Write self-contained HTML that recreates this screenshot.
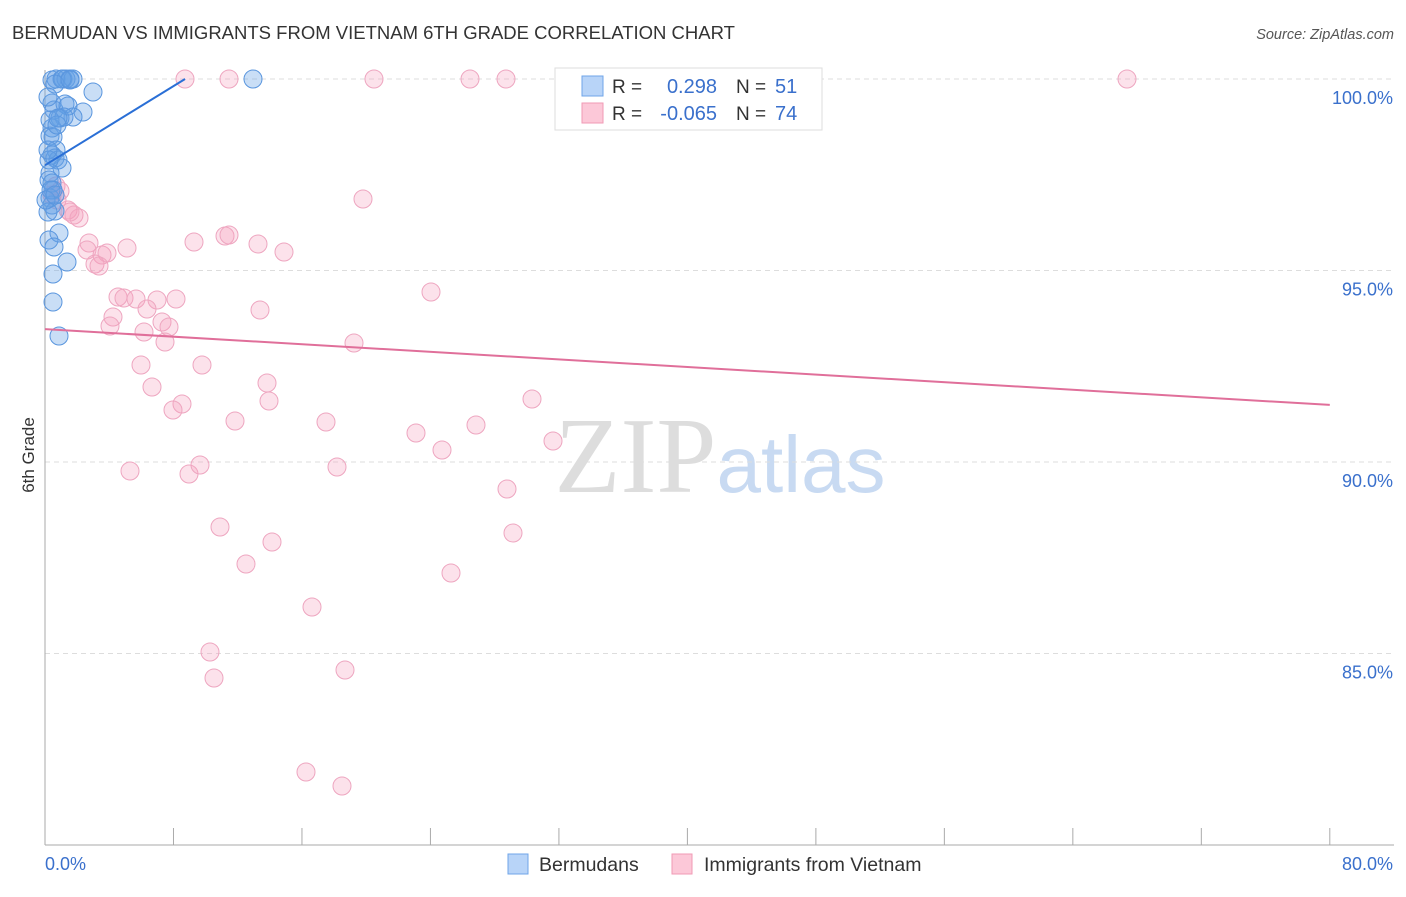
<!DOCTYPE html>
<html><head><meta charset="utf-8"><style>
body{margin:0;background:#fff;font-family:"Liberation Sans",sans-serif;}
svg text{font-family:"Liberation Sans",sans-serif;}
</style></head><body>
<svg id="chart" width="1406" height="892" viewBox="0 0 1406 892" xmlns="http://www.w3.org/2000/svg">
<text x="12" y="39" font-size="18.5" fill="#333">BERMUDAN VS IMMIGRANTS FROM VIETNAM 6TH GRADE CORRELATION CHART</text>
<text x="1394" y="39" font-size="14.5" fill="#555" text-anchor="end" font-style="italic">Source: ZipAtlas.com</text>
<text x="720" y="492" font-size="108" text-anchor="middle"><tspan fill="#ddd" font-family="Liberation Serif">ZIP</tspan><tspan fill="#c8daf2" font-size="80">atlas</tspan></text>
<g id="grid"></g><g id="axes"></g><g id="pts"></g><g id="lines"></g>
<text transform="translate(34,455) rotate(-90)" font-size="17" fill="#333" text-anchor="middle">6th Grade</text>
<g>
<rect x="555" y="68" width="267" height="62" fill="#fff" stroke="#ddd"/>
<rect x="582" y="76" width="21" height="20" fill="#b8d4f8" stroke="#6fa5e8"/>
<rect x="582" y="103" width="21" height="20" fill="#fcc8d8" stroke="#f09ab5"/>
<text x="612" y="93" font-size="19" fill="#333">R =</text><text x="717" y="93" font-size="20" fill="#3a70cc" text-anchor="end">0.298</text>
<text x="736" y="93" font-size="19" fill="#333">N =</text><text x="775" y="93" font-size="20" fill="#3a70cc">51</text>
<text x="612" y="120" font-size="19" fill="#333">R =</text><text x="717" y="120" font-size="20" fill="#3a70cc" text-anchor="end">-0.065</text>
<text x="736" y="120" font-size="19" fill="#333">N =</text><text x="775" y="120" font-size="20" fill="#3a70cc">74</text>
</g>
<g>
<rect x="508" y="854" width="20" height="20" fill="#b8d4f8" stroke="#6fa5e8"/>
<text x="539" y="871" font-size="19.5" fill="#333">Bermudans</text>
<rect x="672" y="854" width="20" height="20" fill="#fcc8d8" stroke="#f09ab5"/>
<text x="704" y="871" font-size="19.5" fill="#333">Immigrants from Vietnam</text>
</g>
</svg>
<script>
const yTicks=[100,95,90,85];
const yTickLabels=["100.0%","95.0%","90.0%","85.0%"];
const xTicks=[0,8,16,24,32,40,48,56,64,72,80];
const bluePx=[[52,80],[56,79],[63,79],[66,79],[70,79],[73,79],[62,79],[253,79],[93,92],[55,84],[52,103],[54,110],[65,104],[68,106],[83,112],[73,117],[60,118],[64,117],[52,128],[50,136],[53,137],[56,150],[52,155],[55,158],[58,160],[62,168],[50,173],[49,180],[52,183],[53,190],[50,198],[52,205],[55,211],[48,212],[59,233],[49,240],[54,247],[67,262],[53,274],[53,302],[59,336],[48,97],[50,120],[57,125],[70,80],[51,190],[46,200],[49,160],[55,195],[48,150],[58,118]];
const pinkPx=[[185,79],[229,79],[374,79],[470,79],[506,79],[738,79],[1127,79],[56,186],[60,191],[52,195],[57,200],[68,210],[74,215],[79,218],[70,212],[363,199],[89,243],[87,250],[102,255],[107,253],[127,248],[95,264],[99,266],[194,242],[225,236],[229,235],[258,244],[284,252],[118,297],[124,298],[136,299],[157,300],[176,299],[147,309],[260,310],[431,292],[113,317],[110,326],[144,332],[162,322],[169,327],[165,342],[354,343],[141,365],[202,365],[152,387],[267,383],[182,404],[269,401],[173,410],[235,421],[326,422],[532,399],[476,425],[416,433],[442,450],[553,441],[130,471],[189,474],[200,465],[337,467],[507,489],[220,527],[272,542],[513,533],[246,564],[451,573],[312,607],[210,652],[345,670],[214,678],[306,772],[342,786]];
const toX=p=>(p-45)/16.06, toY=p=>100-(p-79)/38.3;
const blueX=bluePx.map(d=>toX(d[0])), blueY=bluePx.map(d=>toY(d[1]));
const pinkX=pinkPx.map(d=>toX(d[0])), pinkY=pinkPx.map(d=>toY(d[1]));
const blueLine=[[0,97.75],[8.72,100]];
const pinkLine=[[0,93.47],[80,91.49]];
const X=v=>45+v*16.06, Y=v=>79+(100-v)*38.3;
const NS="http://www.w3.org/2000/svg";
function mk(t,a,parent){const e=document.createElementNS(NS,t);for(const k in a)e.setAttribute(k,a[k]);document.getElementById(parent).appendChild(e);return e;}
yTicks.forEach((t,i)=>{
 const l=mk('line',{x1:45,x2:1394,y1:Y(t),y2:Y(t),stroke:'#ddd','stroke-dasharray':'5,4'},'grid');
 
 
 const tx=mk('text',{x:1393,y:Y(t)+25,'font-size':18,fill:'#3a70cc','text-anchor':'end'},'axes');
 tx.textContent=yTickLabels[i];
 
 
});
const ax=mk('line',{x1:45,x2:1394,y1:845,y2:845,stroke:'#aaa'},'axes');


const ay=mk('line',{x1:45,x2:45,y1:70,y2:845,stroke:'#aaa'},'axes');


xTicks.forEach(t=>{const l=mk('line',{x1:X(t),x2:X(t),y1:828,y2:845,stroke:'#aaa'},'axes');
 
 });
const x0=mk('text',{x:45,y:870,'font-size':18,fill:'#3a70cc'},'axes');x0.textContent='0.0%';


const x1=mk('text',{x:1393,y:870,'font-size':18,fill:'#3a70cc','text-anchor':'end'},'axes');x1.textContent='80.0%';


pinkX.forEach((v,i)=>{const c=mk('circle',{cx:X(v),cy:Y(pinkY[i]),r:9,fill:'rgba(245,160,190,0.3)',stroke:'#eea6c0','stroke-width':1},'pts');
 
 });
blueX.forEach((v,i)=>{const c=mk('circle',{cx:X(v),cy:Y(blueY[i]),r:9,fill:'rgba(100,160,230,0.35)',stroke:'#5a96de','stroke-width':1},'pts');
 
 });
const bl=mk('line',{x1:X(blueLine[0][0]),y1:Y(blueLine[0][1]),x2:X(blueLine[1][0]),y2:Y(blueLine[1][1]),stroke:'#2a6fd6','stroke-width':2},'lines');


const pl=mk('line',{x1:X(pinkLine[0][0]),y1:Y(pinkLine[0][1]),x2:X(pinkLine[1][0]),y2:Y(pinkLine[1][1]),stroke:'#e06f9a','stroke-width':2},'lines');


</script>
</body></html>
